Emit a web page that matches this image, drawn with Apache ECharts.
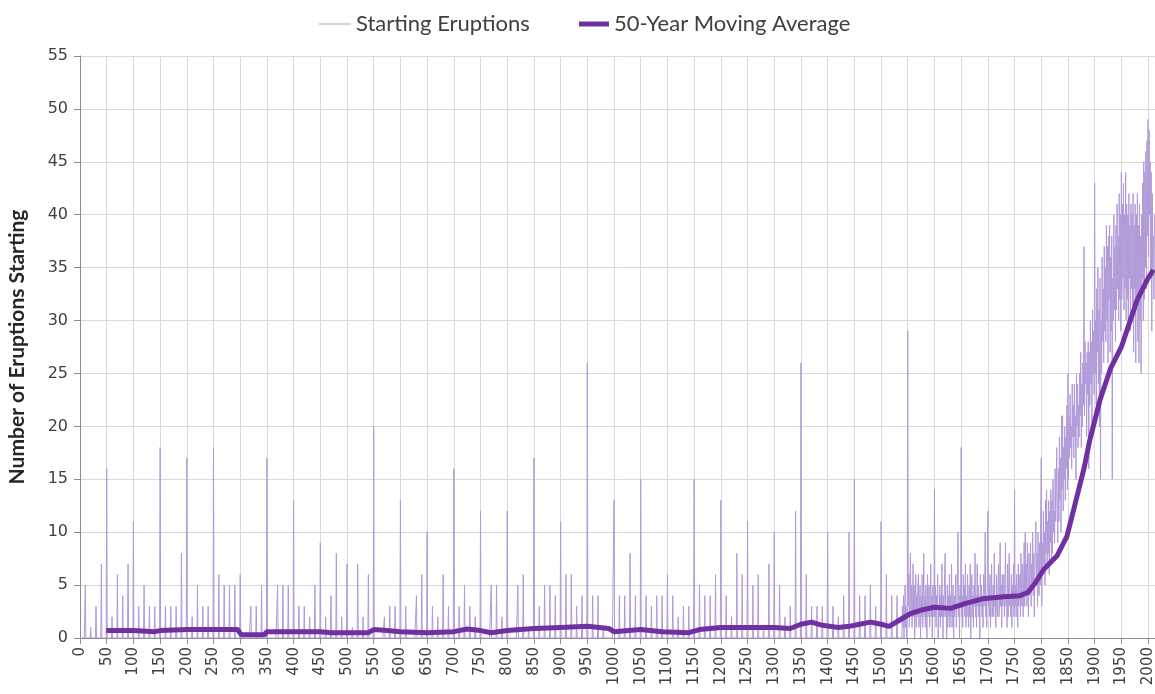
<!DOCTYPE html>
<html>
<head>
<meta charset="utf-8">
<title>Starting Eruptions</title>
<script src="https://cdn.jsdelivr.net/npm/echarts@6/dist/echarts.min.js"></script>
<style>
  html, body { margin: 0; padding: 0; background: #fff; }
  #main { width: 1155px; height: 694px; }
</style>
</head>
<body>
<div id="main"></div>
<script>
// eruptions starting per decade year (0, 10, 20 ... 1530), years in between are 0
const decadeValues = [
  0, 5, 1, 3, 7, 16, 2, 6, 4, 7,
  11, 3, 5, 3, 3, 18, 3, 3, 3, 8,
  17, 2, 5, 3, 3, 18, 6, 5, 5, 5,
  6, 0, 3, 3, 5, 17, 0, 5, 5, 5,
  13, 3, 3, 2, 5, 9, 2, 4, 8, 2,
  7, 1, 7, 2, 6, 20, 0, 2, 3, 3,
  13, 3, 0, 4, 6, 10, 3, 2, 6, 3,
  16, 3, 5, 3, 2, 12, 0, 5, 5, 2,
  12, 0, 5, 6, 1, 17, 3, 5, 5, 4,
  11, 6, 6, 3, 4, 26, 4, 4, 1, 0,
  13, 4, 4, 8, 4, 15, 4, 3, 4, 4,
  6, 4, 2, 3, 3, 15, 5, 4, 4, 6,
  13, 4, 2, 8, 6, 11, 5, 6, 1, 7,
  10, 5, 2, 3, 12, 26, 6, 3, 3, 3,
  10, 3, 2, 4, 10, 15, 4, 4, 5, 3,
  11, 6, 4, 4
];

// yearly values from 1540 on
const lateStart = 1540;
const lateValues = [
  3, 1, 4, 0, 2, 5, 1, 3, 0, 2,
  29, 3, 6, 1, 4, 8, 2, 5, 1, 3,
  7, 2, 5, 0, 3, 6, 1, 4, 2, 5,
  6, 1, 3, 5, 0, 4, 2, 6, 1, 3,
  8, 2, 4, 1, 5, 3, 0, 6, 2, 4,
  5, 1, 3, 7, 2, 4, 0, 5, 3, 2,
  14, 2, 5, 1, 4, 3, 6, 0, 3, 2,
  5, 1, 4, 2, 7, 3, 0, 4, 2, 6,
  8, 2, 3, 0, 5, 1, 4, 2, 6, 1,
  4, 2, 7, 1, 3, 5, 0, 4, 2, 3,
  6, 1, 3, 5, 10, 2, 4, 0, 5, 3,
  18, 2, 4, 1, 6, 3, 5, 2, 7, 1,
  4, 2, 6, 3, 1, 5, 2, 7, 0, 3,
  6, 2, 4, 1, 5, 3, 8, 2, 4, 1,
  7, 3, 5, 2, 4, 0, 6, 3, 5, 2,
  4, 1, 6, 3, 5, 10, 2, 4, 1, 6,
  12, 3, 5, 2, 6, 1, 4, 7, 2, 3,
  5, 2, 8, 3, 4, 1, 6, 3, 2, 5,
  7, 2, 4, 9, 3, 5, 1, 6, 3, 4,
  6, 2, 5, 9, 3, 4, 1, 7, 2, 5,
  8, 3, 4, 2, 6, 1, 5, 3, 7, 2,
  14, 3, 5, 2, 6, 4, 1, 7, 3, 5,
  6, 2, 8, 4, 3, 7, 2, 5, 9, 3,
  10, 4, 7, 3, 9, 5, 2, 8, 4, 6,
  9, 3, 7, 5, 10, 4, 8, 2, 6, 9,
  11, 5, 8, 3, 10, 6, 4, 9, 5, 12,
  17, 3, 9, 6, 12, 7, 10, 5, 13, 8,
  14, 7, 11, 8, 13, 6, 12, 9, 14, 7,
  13, 8, 15, 10, 12, 9, 16, 11, 14, 18,
  12, 9, 16, 11, 19, 13, 17, 10, 21, 14,
  21, 12, 18, 15, 20, 13, 19, 16, 22, 14,
  25, 15, 21, 17, 23, 18, 20, 16, 24, 19,
  22, 17, 24, 19, 21, 15, 25, 20, 24, 18,
  22, 19, 25, 21, 27, 18, 24, 20, 26, 22,
  37, 21, 28, 24, 26, 19, 27, 23, 28, 16,
  27, 22, 30, 24, 28, 20, 31, 25, 29, 23,
  43, 25, 30, 22, 33, 27, 35, 24, 31, 20,
  34, 15, 30, 25, 36, 28, 33, 26, 37, 29,
  35, 28, 39, 30, 37, 26, 38, 32, 39, 27,
  36, 29, 38, 15, 34, 30, 40, 31, 37, 28,
  39, 31, 41, 33, 38, 30, 42, 32, 40, 29,
  44, 32, 41, 34, 43, 31, 40, 33, 44, 30,
  41, 32, 40, 30, 42, 34, 39, 29, 41, 33,
  40, 31, 42, 27, 39, 33, 41, 26, 40, 32,
  42, 28, 39, 26, 41, 30, 38, 25, 40, 34,
  43, 30, 45, 32, 44, 35, 46, 33, 47, 38,
  49, 36, 48, 40, 45, 34, 44, 29, 42, 35,
  38, 32, 40
];

// 50-year moving average
const maYears = [
  49, 100, 140, 150, 200, 250, 295, 302, 345, 350,
  400, 450, 470, 540, 550, 575, 600, 650, 700, 725,
  750, 770, 800, 850, 900, 950, 990, 1000, 1050, 1090,
  1140, 1160, 1200, 1250, 1300, 1330, 1350, 1370, 1390, 1420,
  1440, 1460, 1480, 1500, 1515, 1535, 1555, 1580, 1600, 1630,
  1660, 1690, 1710, 1730, 1760, 1775, 1790, 1805, 1830, 1848,
  1860, 1870, 1880, 1890, 1900, 1910, 1920, 1930, 1940, 1950,
  1960, 1970, 1980, 1990, 2000, 2010
];
const maValues = [
  0.7, 0.7, 0.6, 0.7, 0.8, 0.8, 0.8, 0.3, 0.3, 0.6,
  0.6, 0.6, 0.5, 0.5, 0.8, 0.7, 0.6, 0.5, 0.6, 0.85,
  0.7, 0.5, 0.7, 0.9, 1.0, 1.1, 0.9, 0.6, 0.8, 0.6,
  0.5, 0.8, 1.0, 1.0, 1.0, 0.9, 1.3, 1.5, 1.2, 1.0,
  1.1, 1.3, 1.5, 1.3, 1.1, 1.7, 2.3, 2.7, 2.9, 2.8,
  3.3, 3.7, 3.8, 3.9, 4.0, 4.3, 5.3, 6.5, 7.8, 9.6,
  12, 14, 16, 18.5, 20.5, 22.5, 24, 25.5, 26.5, 27.5,
  29, 30.5, 32, 33, 34, 34.8
];

const yearTicks = { min: 0, max: 2013, step: 50 };

// build [year, value] pairs
const yearly = [];
for (let y = 0; y < lateStart; y++) {
  yearly.push([y, y % 10 === 0 ? decadeValues[y / 10] : 0]);
}
lateValues.forEach((v, i) => yearly.push([lateStart + i, v]));

const movingAvg = maYears.map((y, i) => [y, maValues[i]]);

const chart = echarts.init(document.getElementById("main"));
const font = "Lato, 'Open Sans', sans-serif";
const numFont = "'DejaVu Sans', Verdana, sans-serif";
const legendText = { fontSize: 22, color: "#404040", fontFamily: font };

const option = {
  animation: false,
  textStyle: { fontFamily: font },
  // two legends so each icon gets its own line thickness
  legend: [
    {
      top: 8,
      left: 314,
      itemWidth: 32,
      itemHeight: 1,
      itemGap: 0,
      icon: "rect",
      itemStyle: { color: "#a9a2b5" },
      textStyle: legendText,
      data: ["Starting Eruptions"],
    },
    {
      top: 8,
      left: 574,
      itemWidth: 30,
      itemHeight: 5,
      icon: "rect",
      textStyle: legendText,
      data: ["50-Year Moving Average"],
    },
  ],
  grid: {
    left: 80,
    right: 0,
    top: 56,
    bottom: 56,
    containLabel: false,
    outerBoundsMode: "none",
  },
  xAxis: {
    type: "value",
    min: yearTicks.min,
    max: yearTicks.max,
    interval: yearTicks.step,
    axisLine: { show: true, lineStyle: { color: "#8c8c8c" } },
    axisTick: { show: true, length: 6, lineStyle: { color: "#8c8c8c" } },
    splitLine: { show: true, lineStyle: { color: "#d9d9d9" } },
    axisLabel: {
      rotate: 90,
      fontSize: 15,
      fontFamily: numFont,
      color: "#404040",
      margin: 9,
      showMaxLabel: false,
      formatter: (v) => (v % 50 === 0 ? String(v) : ""),
    },
  },
  yAxis: {
    type: "value",
    min: 0,
    max: 55,
    interval: 5,
    name: "Number of Eruptions Starting",
    nameLocation: "middle",
    nameGap: 52,
    nameTextStyle: { fontSize: 21, fontWeight: "bold", color: "#262626", fontFamily: font },
    axisLine: { show: true, lineStyle: { color: "#8c8c8c" } },
    axisTick: { show: true, length: 6, lineStyle: { color: "#8c8c8c" } },
    splitLine: { show: true, lineStyle: { color: "#d9d9d9" } },
    axisLabel: { fontSize: 16, fontFamily: numFont, color: "#404040", margin: 12 },
  },
  series: [
    {
      name: "Starting Eruptions",
      type: "line",
      data: yearly,
      symbol: "none",
      sampling: false,
      color: "#b19ad8",
      lineStyle: { width: 1, color: "#b19ad8" },
      z: 2,
    },
    {
      name: "50-Year Moving Average",
      type: "line",
      data: movingAvg,
      symbol: "none",
      color: "#7030a0",
      lineStyle: { width: 5, color: "#7030a0" },
      z: 3,
    },
  ],
};

chart.setOption(option);
</script>
</body>
</html>
